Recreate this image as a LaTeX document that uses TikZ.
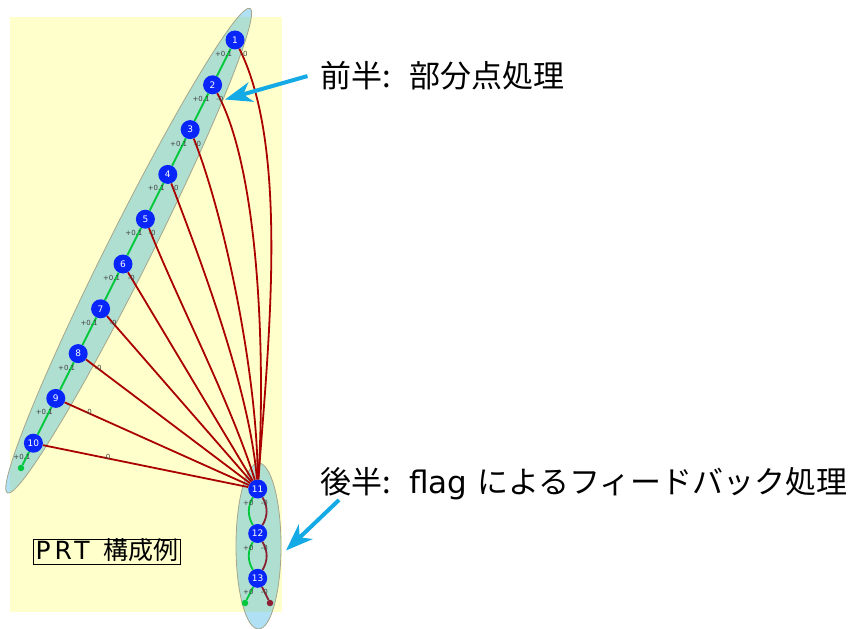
\documentclass[tikz,border=0pt]{standalone}
\usepackage{fontspec}
\setmainfont{DejaVu Sans}
\newfontfamily\jpfont{Noto Sans CJK JP}
\newfontfamily\prtfont[LetterSpace=16]{DejaVu Sans}
\usepackage{xcolor}
\usetikzlibrary{arrows.meta,positioning,calc}
\definecolor{fundo}{RGB}{255,255,204}
\definecolor{grupoazul}{RGB}{15,160,221}
\definecolor{grupoborda}{RGB}{165,165,140}
\definecolor{pontoazul}{RGB}{8,38,250}
\definecolor{arestavermelha}{RGB}{170,0,0}
\definecolor{retornovermelho}{RGB}{140,30,50}
\definecolor{cadeiaverde}{RGB}{0,200,60}
\definecolor{setaciano}{RGB}{20,170,230}
\tikzset{
    ponto/.style={
        circle,
        fill=pontoazul,
        text=white,
        inner sep=0pt,
        minimum size=19bp,
        font=\fontsize{9bp}{10bp}\selectfont
    },
    grupo/.style={fill=grupoazul, fill opacity=0.33, draw=grupoborda, line width=0.8bp},
    aresta/.style={draw=arestavermelha, line width=1.8bp},
    retorno/.style={draw=retornovermelho, line width=1.8bp},
    cadeia/.style={draw=cadeiaverde, line width=1.8bp},
    fim/.style={circle, inner sep=0pt, minimum size=6.5bp},
    rotulo/.style={font=\fontsize{7bp}{8bp}\selectfont, text=black!75, inner sep=0pt},
    nota/.style={font=\fontsize{31bp}{34bp}\selectfont, inner sep=0pt, anchor=west},
    seta/.style={draw=setaciano, line width=4bp, -{Stealth[length=27bp,width=20bp,inset=8bp]}}
}

\begin{document}
\begin{tikzpicture}[x=1bp, y=-1bp]
        \useasboundingbox (0,0) rectangle (850,629);
        \fill[fundo] (10,17) rectangle (282,612);

        % grupos
        \draw[grupo, rotate around={63.4:(128.7,250.7)}] (128.7,250.7)
            ellipse [x radius=271, y radius=22];
        \draw[grupo] (258.5,546) ellipse [x radius=22.5, y radius=83];

        % pontos
        \foreach \i in {1,...,10}
            \node[ponto] (n\i) at ({235-22.4*(\i-1)}, {40+44.8*(\i-1)}) {\i};
        \node[ponto] (n11) at (257.7,489) {11};
        \node[ponto] (n12) at (257.7,533.5) {12};
        \node[ponto] (n13) at (257.7,578.3) {13};

        \node[fim, fill=cadeiaverde] (g1) at (21,468) {};
        \node[fim, fill=cadeiaverde] (g2) at (245,603) {};
        \node[fim, fill=retornovermelho] (r2) at (270,603) {};

        % arestas
        \foreach \i/\ax/\ay/\bx/\by in {1/55/110/10/-139, 2/47/86/8/-129,
                3/36/91/0/-109, 4/33/86/-8/-99, 5/32/81/-28/-89}
            \draw[aresta] (n\i) .. controls +(\ax,\ay) and +(\bx,\by) .. (n11);
        \foreach \i in {6,...,10}
            \draw[aresta] (n\i) -- (n11);

        \foreach \i [count=\j from 2] in {1,...,9}
            \draw[cadeia] (n\i) -- (n\j);
        \draw[cadeia] (n10) -- (g1);
        \draw[cadeia] (n11) to[bend right=30] (n12);
        \draw[cadeia] (n12) to[bend right=30] (n13);
        \draw[cadeia] (n13) -- (g2);
        \draw[retorno] (n11) to[bend left=30] (n12);
        \draw[retorno] (n12) to[bend left=30] (n13);
        \draw[retorno] (n13) -- (r2);

        % rotulos
        \foreach \i/\dx in {1/9, 2/7.3, 3/7.3, 4/7.3, 5/6.7, 6/8.4, 7/12.6,
                8/20, 9/32.6, 10/73.4} {
            \node[rotulo] (p\i) at ([shift={(-11.5,14)}]n\i.center) {+0.1};
            \node[rotulo] (m\i) at ([shift={(\dx,14)}]n\i.center) {-0};
        }
        \foreach \i in {11,12,13} {
            \node[rotulo] (p\i) at ([shift={(-9.4,14)}]n\i.center) {+0};
            \node[rotulo] (m\i) at ([shift={(6.6,14)}]n\i.center) {-0};
        }

        % notas
        \node[nota] (frente) at (320,75.5) {\jpfont 前半:\hspace{0.6em}部分点処理};
        \node[nota] (tras) at (320,483.5)
            {{\jpfont 後半:\hspace{0.6em}}flag {\jpfont によるフィードバック処理}};
        \node[draw, line width=0.9bp, inner xsep=2.5bp, inner ysep=1bp,
            text height=19bp, text depth=4bp,
            font=\fontsize{25bp}{27bp}\selectfont] (prt) at (107,551.8)
            {{\prtfont PRT}\hspace{0.55em}{\jpfont 構成例}};

        \coordinate (alvo1) at (225,99.5);
        \coordinate (alvo2) at (286,550.5);
        \draw[seta, shorten <=13bp] ([yshift=3bp]frente.west) -- (alvo1);
        \draw[seta] ([xshift=19bp]tras.south west) -- (alvo2);
    \end{tikzpicture}
\end{document}
